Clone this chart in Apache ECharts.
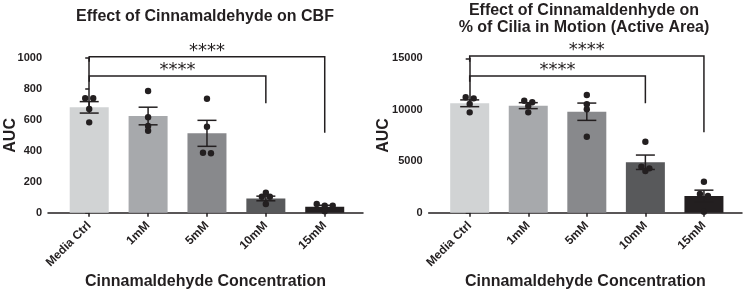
<!DOCTYPE html>
<html>
<head>
<meta charset="utf-8">
<script src="https://cdn.jsdelivr.net/npm/echarts@6/dist/echarts.min.js"></script>
<style>
  html, body { margin: 0; padding: 0; background: #fff; }
  #chart { width: 744px; height: 294px; }
</style>
</head>
<body>
<div id="chart"></div>
<script>
// categories on both panels
const categories = ["Media Ctrl", "1mM", "5mM", "10mM", "15mM"];
const barColors = ["#d1d3d4", "#a7a9ac", "#88898c", "#58595b", "#231f20"];

// left panel: CBF
const cbfMean = [681, 625, 513, 92, 38];
const cbfSem = [37, 57, 84, 15, 10];
const cbfPoints = [
  [740, 740, 670, 584],
  [787, 617, 560, 530],
  [737, 556, 388, 384],
  [129, 103, 103, 56],
  [45, 45, 56, 10]
];
const cbfTicks = [0, 200, 400, 600, 800, 1000];

// right panel: % of cilia in motion
const ciliaMean = [10630, 10400, 9810, 4900, 1620];
const ciliaSem = [330, 290, 840, 700, 570];
const ciliaPoints = [
  [11210, 11110, 10560, 9750],
  [10880, 10730, 10370, 9750],
  [11440, 10530, 10050, 7380],
  [6900, 4470, 4050, 4310],
  [3010, 1820, 1620, 100]
];
const ciliaTicks = [0, 5000, 10000, 15000];

// significance brackets: [from, to, level, left leg end, right leg end]
const cbfSig = [[0, 4, 1008, 976, 517], [0, 3, 884, 847, 707]];
const ciliaSig = [[0, 4, 15224, 14670, 7811], [0, 3, 13281, 12727, 10628]];
const sigLabel = "****";

const ink = "#231f20";
const font = "'Liberation Sans', Arial, sans-serif";

var chart = echarts.init(document.getElementById("chart"));

function xAxisFor(gi) {
  return {
    type: "value",
    gridIndex: gi,
    min: -0.7,
    max: 4.65,
    splitLine: { show: false },
    axisLine: { lineStyle: { color: ink, width: 1.5 } },
    axisTick: { customValues: [0, 1, 2, 3, 4], length: 4, lineStyle: { color: ink, width: 1.5 } },
    axisLabel: {
      customValues: [0, 1, 2, 3, 4],
      formatter: function (v) { return categories[Math.round(v)]; },
      rotate: 45,
      margin: 11,
      color: ink,
      fontFamily: font,
      fontWeight: "bold",
      fontSize: 12
    },
    name: "Cinnamaldehyde Concentration",
    nameLocation: "middle",
    nameGap: 61,
    nameMoveOverlap: false,
    nameTextStyle: { color: ink, fontFamily: font, fontWeight: "bold", fontSize: 16 }
  };
}

function yAxisFor(gi, ticks, gap) {
  return {
    type: "value",
    gridIndex: gi,
    min: 0,
    max: ticks[ticks.length - 1],
    interval: ticks[1] - ticks[0],
    splitLine: { show: false },
    axisLine: { show: true, lineStyle: { color: ink, width: 1.5 } },
    axisTick: { show: true, length: 4, lineStyle: { color: ink, width: 1.5 } },
    axisLabel: {
      formatter: function (v) { return String(v); },
      color: ink, fontFamily: font, fontWeight: "bold", fontSize: 11, margin: 6
    },
    name: "AUC",
    nameLocation: "middle",
    nameGap: gap,
    nameMoveOverlap: false,
    nameTextStyle: { color: ink, fontFamily: font, fontWeight: "bold", fontSize: 16 }
  };
}

function panelSeries(gi, mean, sem, points, sig) {
  return [
    {
      type: "bar",
      xAxisIndex: gi,
      yAxisIndex: gi,
      barWidth: 39,
      data: mean.map(function (m, i) {
        return { value: [i, m], itemStyle: { color: barColors[i] } };
      }),
      silent: true
    },
    {
      // error bars (mean +- SEM)
      type: "custom",
      xAxisIndex: gi,
      yAxisIndex: gi,
      data: mean.map(function (m, i) { return [i, m, sem[i]]; }),
      renderItem: function (params, api) {
        var i = api.value(0), m = api.value(1), s = api.value(2);
        var top = api.coord([i, m + s]);
        var bot = api.coord([i, m - s]);
        var hw = 9.5;
        var st = { stroke: ink, lineWidth: 1.5 };
        return {
          type: "group",
          children: [
            { type: "line", shape: { x1: top[0], y1: top[1], x2: bot[0], y2: bot[1] }, style: st },
            { type: "line", shape: { x1: top[0] - hw, y1: top[1], x2: top[0] + hw, y2: top[1] }, style: st },
            { type: "line", shape: { x1: bot[0] - hw, y1: bot[1], x2: bot[0] + hw, y2: bot[1] }, style: st }
          ]
        };
      },
      z: 3
    },
    {
      // individual points, spread sideways when they sit at the same height
      type: "custom",
      xAxisIndex: gi,
      yAxisIndex: gi,
      data: points.reduce(function (acc, arr, i) {
        arr.forEach(function (v, j) { acc.push([i, v, j]); });
        return acc;
      }, []),
      renderItem: function (params, api) {
        var i = api.value(0), j = api.value(2);
        var ys = points[i].map(function (v, k) { return { k: k, y: api.coord([i, v])[1] }; });
        ys.sort(function (a, b) { return a.y - b.y; });
        var rows = [];
        ys.forEach(function (p) {
          var last = rows[rows.length - 1];
          if (last && p.y - last[0].y < 3.5) last.push(p);
          else rows.push([p]);
        });
        var off = 0;
        rows.forEach(function (r) {
          r.forEach(function (p, n) {
            if (p.k === j) off = (n - (r.length - 1) / 2) * 8;
          });
        });
        var c = api.coord([i, api.value(1)]);
        return {
          type: "circle",
          shape: { cx: c[0] + off, cy: c[1], r: 3.2 },
          style: { fill: ink }
        };
      },
      z: 4
    },
    {
      // significance brackets
      type: "custom",
      xAxisIndex: gi,
      yAxisIndex: gi,
      clip: false,
      data: sig,
      renderItem: function (params, api) {
        var a = api.value(0), b = api.value(1);
        var lv = api.value(2), le = api.value(3), re = api.value(4);
        var p1 = api.coord([a, le]), p2 = api.coord([a, lv]);
        var p3 = api.coord([b, lv]), p4 = api.coord([b, re]);
        return {
          type: "group",
          children: [
            {
              type: "polyline",
              shape: { points: [p1, p2, p3, p4] },
              style: { stroke: ink, lineWidth: 1.5, fill: null }
            },
            {
              type: "text",
              x: (p2[0] + p3[0]) / 2,
              y: p2[1] - 5.5,
              style: {
                text: sigLabel,
                fill: ink,
                font: "18px 'DejaVu Sans', sans-serif",
                textAlign: "center",
                textVerticalAlign: "middle"
              }
            }
          ]
        };
      },
      z: 5
    }
  ];
}

var option = {
  animation: false,
  grid: [
    { left: 48, width: 315, top: 58, bottom: 81.3, outerBoundsMode: "none" },
    { left: 428.7, width: 313.3, top: 58.3, bottom: 81.3, outerBoundsMode: "none" }
  ],
  xAxis: [xAxisFor(0), xAxisFor(1)],
  yAxis: [yAxisFor(0, cbfTicks, 29), yAxisFor(1, ciliaTicks, 36.7)],
  graphic: [
    {
      type: "text",
      x: 205,
      y: 17,
      style: {
        text: "Effect of Cinnamaldehyde on CBF",
        fill: ink,
        font: "bold 16px " + font,
        textAlign: "center",
        textVerticalAlign: "middle"
      }
    },
    {
      type: "text",
      x: 584,
      y: 19,
      style: {
        text: "Effect of Cinnamaldenhyde on\n% of Cilia in Motion (Active Area)",
        fill: ink,
        font: "bold 16px " + font,
        lineHeight: 17,
        textAlign: "center",
        textVerticalAlign: "middle"
      }
    }
  ],
  series: panelSeries(0, cbfMean, cbfSem, cbfPoints, cbfSig)
    .concat(panelSeries(1, ciliaMean, ciliaSem, ciliaPoints, ciliaSig))
};

chart.setOption(option);
</script>
</body>
</html>
